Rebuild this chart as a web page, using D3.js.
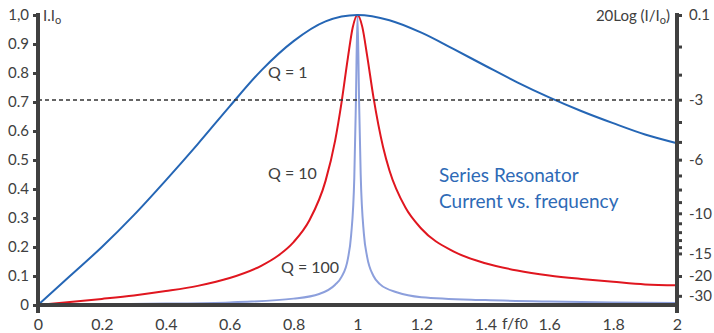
<!DOCTYPE html>
<html>
<head>
<meta charset="utf-8">
<script src="https://cdn.jsdelivr.net/npm/d3@7"></script>
<style>
	body { margin: 0; background: #fff; }
	svg { display: block; font-family: Lato, "Open Sans", sans-serif; }
</style>
</head>
<body>
<div class="container"></div>
<script>
// values
var xTicks = [0, 0.2, 0.4, 0.6, 0.8, 1, 1.2, 1.4, 1.6, 1.8, 2];
var yTicks = [0, 0.1, 0.2, 0.3, 0.4, 0.5, 0.6, 0.7, 0.8, 0.9, 1];
var yTickLabels = ["0", "0.1", "0.2", "0.3", "0.4", "0.5", "0.6", "0.7", "0.8", "0.9", "1,0"];
var dbTicks = [0, -1, -2, -3, -4, -5, -6, -7, -8, -9, -10, -11, -12, -13, -14, -15, -20, -30];
var dbLabels = {"0": "0.1", "-3": "-3", "-6": "-6", "-10": "-10", "-15": "-15", "-20": "-20", "-30": "-30"};

var q1Freq = [0, 0.1, 0.2, 0.3, 0.4, 0.5, 0.6, 0.7, 0.8, 0.9, 1, 1.1, 1.2, 1.3, 1.4, 1.5, 1.6, 1.7, 1.8, 1.9, 2];
var q1Curr = [0, 0.1, 0.2, 0.31, 0.43, 0.555, 0.685, 0.81, 0.91, 0.978, 1, 0.982, 0.939, 0.883, 0.825, 0.768, 0.716, 0.669, 0.627, 0.588, 0.558];

var q10Freq = [0, 0.1, 0.2, 0.3, 0.4, 0.5, 0.6, 0.7, 0.75, 0.8, 0.85, 0.9, 0.93, 0.95, 0.97, 0.985, 1, 1.015, 1.03, 1.05, 1.08, 1.1, 1.15, 1.2, 1.3, 1.4, 1.5, 1.6, 1.7, 1.8, 1.9, 2];
var q10Curr = [0, 0.01, 0.021, 0.033, 0.048, 0.066, 0.093, 0.136, 0.169, 0.217, 0.293, 0.428, 0.567, 0.698, 0.853, 0.957, 1, 0.959, 0.861, 0.716, 0.545, 0.464, 0.336, 0.263, 0.185, 0.144, 0.119, 0.102, 0.09, 0.08, 0.071, 0.068];

var q100Freq = [0, 0.2, 0.4, 0.6, 0.8, 0.88, 0.93, 0.95, 0.97, 0.98, 0.99, 0.995, 1, 1.005, 1.01, 1.02, 1.03, 1.05, 1.07, 1.125, 1.2, 1.4, 1.6, 1.8, 2];
var q100Curr = [0, 0.003, 0.005, 0.009, 0.022, 0.038, 0.07, 0.097, 0.16, 0.24, 0.44, 0.7, 1, 0.7, 0.45, 0.245, 0.167, 0.1, 0.072, 0.043, 0.027, 0.017, 0.012, 0.009, 0.007];

var halfPower = 0.707;

var width = 714, height = 333;
var axisColor = "#404040";

var svg = d3.select(".container").append("svg")
	.attr("width", width)
	.attr("height", height);

var x = d3.scaleLinear().domain([0, 2]).range([38, 677]);
var y = d3.scaleLinear().domain([0, 1]).range([305, 15]);

// curves
var line = d3.line()
	.x(function (d) { return x(d[0]); })
	.y(function (d) { return y(d[1]); })
	.curve(d3.curveMonotoneX);

var series = [
	{f: q100Freq, v: q100Curr, color: "#8c9fdc", w: 2},
	{f: q10Freq, v: q10Curr, color: "#e0161f", w: 2},
	{f: q1Freq, v: q1Curr, color: "#2566b5", w: 2}
];

svg.selectAll("path.curve")
	.data(series)
	.enter()
	.append("path")
		.attr("class", "curve")
		.attr("fill", "none")
		.attr("stroke", function (d) { return d.color; })
		.attr("stroke-width", function (d) { return d.w; })
		.attr("d", function (d) {
			return line(d.f.map(function (f, i) { return [f, d.v[i]]; }));
		});

// -3 dB dashed line
svg.append("line")
	.attr("x1", x(0)).attr("x2", x(2))
	.attr("y1", y(halfPower)).attr("y2", y(halfPower))
	.attr("stroke", "#333")
	.attr("stroke-width", 1.5)
	.attr("stroke-dasharray", "4,3");

// left axis
var left = svg.append("g")
	.attr("transform", "translate(" + x(0) + ",0)")
	.call(d3.axisLeft(y)
		.tickValues(yTicks)
		.tickSize(5)
		.tickPadding(4)
		.tickFormat(function (d, i) { return yTickLabels[i]; }));

// right axis: dB ticks placed on the linear scale
var right = svg.append("g")
	.attr("transform", "translate(" + x(2) + ",0)")
	.call(d3.axisRight(y)
		.tickValues(dbTicks.map(function (db) { return Math.pow(10, db / 20); }))
		.tickSize(5)
		.tickPadding(7)
		.tickFormat(function (d, i) { return dbLabels[String(dbTicks[i])] || ""; }));

// bottom axis
var bottom = svg.append("g")
	.attr("transform", "translate(0," + y(0) + ")")
	.call(d3.axisBottom(x)
		.tickValues(xTicks)
		.tickSize(0)
		.tickPadding(14)
		.tickFormat(function (d) { return String(d); }));

[left, right, bottom].forEach(function (g) {
	g.select(".domain").remove();
	g.selectAll(".tick line").attr("stroke", axisColor).attr("stroke-width", 3);
	g.selectAll(".tick text")
		.attr("fill", axisColor)
		.style("font-size", "15px")
		.style("font-family", "Lato, 'Open Sans', sans-serif");
});
bottom.selectAll(".tick text").style("font-size", "16px");

// thick axis lines
svg.append("line")
	.attr("x1", x(0)).attr("x2", x(0))
	.attr("y1", y(1) - 2).attr("y2", y(0) + 8)
	.attr("stroke", axisColor).attr("stroke-width", 4);
svg.append("line")
	.attr("x1", x(2)).attr("x2", x(2))
	.attr("y1", y(1) - 2).attr("y2", y(0) + 8)
	.attr("stroke", axisColor).attr("stroke-width", 4);
svg.append("line")
	.attr("x1", x(0) - 2).attr("x2", x(2) + 2)
	.attr("y1", y(0)).attr("y2", y(0))
	.attr("stroke", axisColor).attr("stroke-width", 4);

// axis titles
var lt = svg.append("text")
	.attr("x", x(0) + 5).attr("y", 21)
	.attr("fill", axisColor)
	.style("font-size", "15px");
lt.append("tspan").text("I.I");
lt.append("tspan").attr("dy", 3).style("font-size", "11px").text("o");

var rt = svg.append("text")
	.attr("x", x(2) - 7).attr("y", 21)
	.attr("text-anchor", "end")
	.attr("fill", axisColor)
	.style("font-size", "15px");
rt.append("tspan").text("20Log (I/I");
rt.append("tspan").attr("dy", 3).style("font-size", "11px").text("o");
rt.append("tspan").attr("dy", -3).text(")");

var ft = svg.append("text")
	.attr("x", 502).attr("y", 329)
	.attr("fill", axisColor)
	.style("font-size", "16px");
ft.append("tspan").text("f/f");
ft.append("tspan").style("font-size", "14px").text("0");

// curve labels
var qLabels = [
	{t: "Q = 1", x: 268, y: 78},
	{t: "Q = 10", x: 268, y: 179},
	{t: "Q = 100", x: 281, y: 273}
];
svg.selectAll("text.q")
	.data(qLabels)
	.enter()
	.append("text")
		.attr("class", "q")
		.attr("x", function (d) { return d.x; })
		.attr("y", function (d) { return d.y; })
		.attr("fill", axisColor)
		.style("font-size", "16px")
		.text(function (d) { return d.t; });

// chart title
svg.selectAll("text.title")
	.data(["Series Resonator", "Current vs. frequency"])
	.enter()
	.append("text")
		.attr("class", "title")
		.attr("x", 439)
		.attr("y", function (d, i) { return 182 + i * 26; })
		.attr("fill", "#2e6ab6")
		.style("font-size", "19px")
		.text(function (d) { return d; });
</script>
</body>
</html>
